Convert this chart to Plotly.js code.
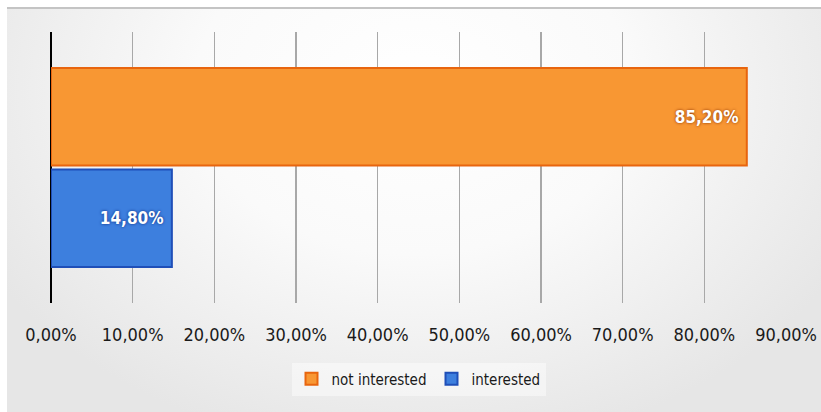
<!DOCTYPE html>
<html>
<head>
<meta charset="utf-8">
<script src="https://cdn.plot.ly/plotly-3.0.1.min.js"></script>
<style>
  html, body { margin:0; padding:0; background:#ffffff; }
  #bg { position:absolute; left:7px; top:7px; width:814px; height:405px;
        border-top:2px solid #c4c4c4;
        background: radial-gradient(ellipse 60% 90% at 50% 20%, #ffffff 0%, #fafafa 45%, #e6e6e6 100%); }
  #chart { position:absolute; left:0; top:0; width:821px; height:412px; }
</style>
</head>
<body>
<div id="bg"></div>
<div id="chart"></div>
<script>
const category = [''];
const seriesNames = ['interested', 'not interested'];
const interested = [14.8];
const notInterested = [85.2];
const tickVals = [0, 10, 20, 30, 40, 50, 60, 70, 80, 90];
const tickText = tickVals.map(v => v.toFixed(2).replace('.', ',') + '%');

const fam = '"DejaVu Sans Condensed", "Liberation Sans Narrow", "DejaVu Sans", sans-serif';
const labelFont = { family: fam, size: 17, color: '#ffffff', weight: 'bold' };

const traces = [
  {
    type: 'bar', orientation: 'h', name: seriesNames[0],
    y: category, x: interested,
    marker: { color: '#3d7fde', line: { color: '#1f4fb8', width: 2 } },
    texttemplate: '%{x:.2f}%\u00a0', textposition: 'inside', insidetextanchor: 'end',
    textfont: Object.assign({}, labelFont, { shadow: '0px 0px 3px #0a2a80' }),
    hoverinfo: 'none'
  },
  {
    type: 'bar', orientation: 'h', name: seriesNames[1],
    y: category, x: notInterested,
    marker: { color: '#f89733', line: { color: '#e8650e', width: 2 } },
    texttemplate: '%{x:.2f}%\u00a0', textposition: 'inside', insidetextanchor: 'end',
    textfont: Object.assign({}, labelFont, { shadow: '0px 0px 3px #8a3000' }),
    hoverinfo: 'none'
  }
];

const layout = {
  width: 821, height: 412,
  paper_bgcolor: 'rgba(0,0,0,0)', plot_bgcolor: 'rgba(0,0,0,0)',
  margin: { l: 51, r: 35, t: 32, b: 109 },
  separators: ',.',
  barmode: 'group', bargap: 0.25, bargroupgap: 0.04,
  showlegend: true,
  font: { family: fam, color: '#222222' },
  xaxis: {
    range: [0, 90], tickmode: 'array', tickvals: tickVals, ticktext: tickText,
    showgrid: true, gridcolor: '#a8a8a8', gridwidth: 1.5,
    zeroline: true, zerolinecolor: '#000000', zerolinewidth: 2.5,
    showline: false, ticks: '', ticklabelstandoff: 19,
    tickfont: { size: 18, color: '#1a1a1a' }, fixedrange: true
  },
  yaxis: { showticklabels: false, showgrid: false, zeroline: false, showline: false, fixedrange: true },
  legend: {
    orientation: 'h', x: 0.5, xanchor: 'center', y: -0.22, yanchor: 'top',
    traceorder: 'reversed', bgcolor: 'rgba(255,255,255,0.45)',
    font: { size: 15, color: '#1a1a1a' }, itemwidth: 30
  }
};

Plotly.newPlot('chart', traces, layout, { staticPlot: true, displayModeBar: false });
</script>
</body>
</html>
